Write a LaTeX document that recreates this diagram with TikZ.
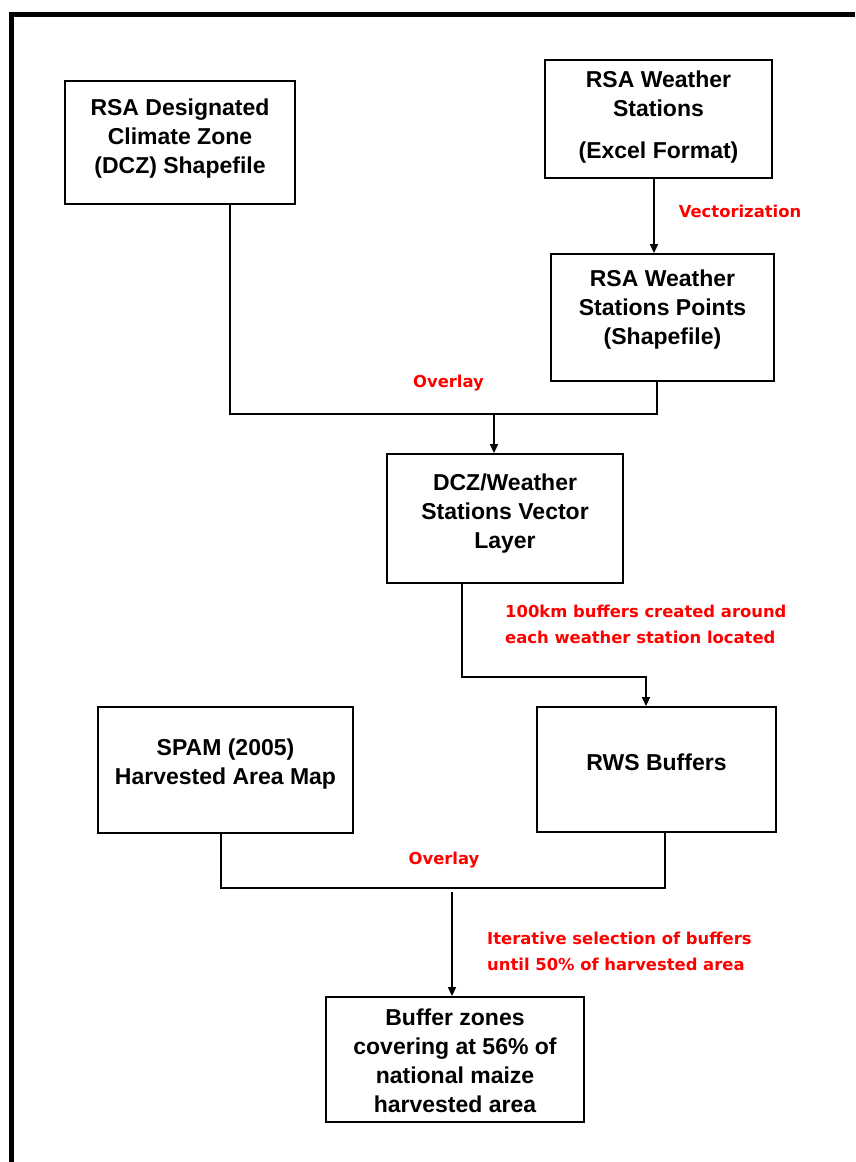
\documentclass[tikz,border=0pt]{standalone}
\usepackage{fontspec}
\setmainfont{Liberation Sans}
\newfontfamily\labfont{DejaVu Sans}
\usetikzlibrary{arrows.meta}
\begin{document}
\begin{tikzpicture}[x=1pt,y=-1pt,
  box/.style={draw, line width=1.8pt, inner sep=0pt},
  boxtext/.style={align=center, font=\fontsize{23}{29}\selectfont\bfseries, inner sep=0pt},
  lab/.style={text=red, font=\labfont\fontsize{16.4}{26}\selectfont\bfseries, inner sep=0pt},
  conn/.style={line width=1.5pt},
  arr/.style={conn, -{Triangle[length=9pt,width=8pt]}}]
\useasboundingbox (0,0) rectangle (855,1162);
% outer frame
\draw[line width=5pt] (11.5,1162) -- (11.5,14.5) -- (855,14.5);

% boxes
\node[box, minimum width=230pt, minimum height=123pt] (dcz)  at (180,142.5) {};
\node[box, minimum width=227pt, minimum height=118pt] (ws)   at (658.5,119) {};
\node[box, minimum width=223pt, minimum height=127pt] (pts)  at (662.5,317.5) {};
\node[box, minimum width=236pt, minimum height=129pt] (dczw) at (505,518.5) {};
\node[box, minimum width=239pt, minimum height=125pt] (rws)  at (656.5,769.5) {};
\node[box, minimum width=255pt, minimum height=126pt] (spam) at (225.5,770) {};
\node[box, minimum width=258pt, minimum height=125pt] (buf)  at (455,1059.5) {};

% box texts
\node[boxtext] (dczT)  at (180,139) {RSA Designated\\Climate Zone\\(DCZ) Shapefile};
\node[boxtext] (wsT)   at (658.5,117.5) {RSA Weather\\Stations\\[13pt](Excel Format)};
\node[boxtext] (ptsT)  at (662.5,309.5) {RSA Weather\\Stations Points\\(Shapefile)};
\node[boxtext] (dczwT) at (505,513.5) {DCZ/Weather\\Stations Vector\\Layer};
\node[boxtext] (rwsT)  at (656.5,762) {RWS Buffers};
\node[boxtext] (spamT) at (225.5,764) {SPAM (2005)\\Harvested Area Map};
\node[boxtext] (bufT)  at (455,1061) {Buffer zones\\covering at 56\% of\\national maize\\harvested area};

% red labels
\node[lab] (vecL) at (740,211) {Vectorization};
\node[lab] (ov1L) at (448.5,383) {Overlay};
\node[lab, anchor=west, align=left] (bufL) at (505,624) {100km buffers created around\\each weather station located};
\node[lab] (ov2L) at (444,860) {Overlay};
\node[lab, anchor=west, align=left] (itL) at (487,951) {Iterative selection of buffers\\until 50\% of harvested area};

% junction coordinates
\coordinate (j1) at (494,414);
\coordinate (j2) at (646,677);
\coordinate (j3) at (452,888);

% connectors
\draw[arr] ([xshift=-4.5pt]ws.south) -- ([xshift=-4.5pt]ws.south |- pts.north);
\draw[conn] ([xshift=50pt]dcz.south) |- (j1) -| ([xshift=-5.5pt]pts.south);
\draw[arr] (j1) -- (j1 |- dczw.north);
\draw[arr] ([xshift=-43pt]dczw.south) |- (j2) -- (j2 |- rws.north);
\draw[conn] ([xshift=-4.5pt]spam.south) |- (j3) -| ([xshift=8.5pt]rws.south);
\draw[arr] ([yshift=-4pt]j3) -- (j3 |- buf.north);
\end{tikzpicture}
\end{document}
